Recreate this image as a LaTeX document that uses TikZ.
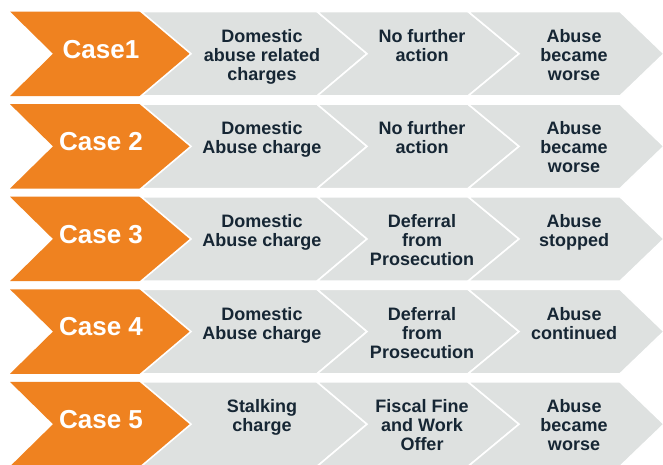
\documentclass[tikz,border=0pt]{standalone}
\usepackage{fontspec}
\setmainfont{Liberation Sans}

\tikzset{
    casetext/.style={text=white, font=\fontsize{26}{30}\selectfont\bfseries, anchor=base, inner sep=0pt},
    steptext/.style={text=ink, font=\fontsize{18}{19}\selectfont\bfseries, align=center, anchor=north, inner sep=0pt}
}

\begin{document}
\begin{tikzpicture}[x=1pt, y=-1pt]
    \def\ytop{11.5}
    \def\pitch{92.6}
    \def\rh{84.5}
    \definecolor{case_orange}{RGB}{239, 130, 32}
    \definecolor{step_grey}{RGB}{222, 225, 224}
    \definecolor{ink}{RGB}{22, 38, 52}

    \useasboundingbox (0,0) rectangle (663,464);
    \fill[white] (0,0) rectangle (663,464);

    % Draw the chevrons, one row per case
    \foreach \r in {0,...,4}{
        \pgfmathsetmacro{\yr}{\ytop + \r*\pitch}
        \pgfmathsetmacro{\ym}{\yr + \rh/2}
        \pgfmathsetmacro{\yb}{\yr + \rh}
        \fill[case_orange] (10,\yr) -- (141,\yr) -- (191,\ym) -- (141,\yb) -- (10,\yb) -- (53,\ym) -- cycle;
        \filldraw[fill=step_grey, draw=white, line width=1.6pt] (141,\yr) -- (317,\yr) -- (367,\ym) -- (317,\yb) -- (141,\yb) -- (191,\ym) -- cycle;
        \filldraw[fill=step_grey, draw=white, line width=1.6pt] (317,\yr) -- (468,\yr) -- (519,\ym) -- (468,\yb) -- (317,\yb) -- (367,\ym) -- cycle;
        \filldraw[fill=step_grey, draw=white, line width=1.6pt] (468,\yr) -- (620,\yr) -- (664,\ym) -- (620,\yb) -- (468,\yb) -- (519,\ym) -- cycle;
    }

    % Case 1
    \node[casetext] (case1) at (101, 58) {Case1};
    \node[steptext] (charge1) at (262, 29) {Domestic\\abuse related\\charges};
    \node[steptext] (action1) at (422, 29) {No further\\action};
    \node[steptext] (result1) at (574, 29) {Abuse\\became\\worse};

    % Case 2
    \node[casetext] (case2) at (101, 150.6) {Case 2};
    \node[steptext] (charge2) at (262, 121.6) {Domestic\\Abuse charge};
    \node[steptext] (action2) at (422, 121.6) {No further\\action};
    \node[steptext] (result2) at (574, 121.6) {Abuse\\became\\worse};

    % Case 3
    \node[casetext] (case3) at (101, 243.2) {Case 3};
    \node[steptext] (charge3) at (262, 214.2) {Domestic\\Abuse charge};
    \node[steptext] (action3) at (422, 214.2) {Deferral\\from\\Prosecution};
    \node[steptext] (result3) at (574, 214.2) {Abuse\\stopped};

    % Case 4
    \node[casetext] (case4) at (101, 335.8) {Case 4};
    \node[steptext] (charge4) at (262, 306.8) {Domestic\\Abuse charge};
    \node[steptext] (action4) at (422, 306.8) {Deferral\\from\\Prosecution};
    \node[steptext] (result4) at (574, 306.8) {Abuse\\continued};

    % Case 5
    \node[casetext] (case5) at (101, 428.4) {Case 5};
    \node[steptext] (charge5) at (262, 399.4) {Stalking\\charge};
    \node[steptext] (action5) at (422, 399.4) {Fiscal Fine\\and Work\\Offer};
    \node[steptext] (result5) at (574, 399.4) {Abuse\\became\\worse};
\end{tikzpicture}
\end{document}
